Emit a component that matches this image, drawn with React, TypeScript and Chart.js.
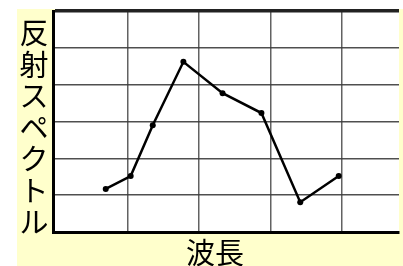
import React, { useEffect, useRef } from "react";
import { Chart, registerables } from "chart.js";

Chart.register(...registerables);

// wavelength positions (arbitrary units) and reflectance values
const wavelengths = [0.69, 1.04, 1.35, 1.78, 2.33, 2.875, 3.42, 3.96];
const reflectance = [1.17, 1.52, 2.9, 4.62, 3.77, 3.23, 0.81, 1.52];
const xGridValues = [1, 2, 3, 4];
const yGridValues = [0, 1, 2, 3, 4, 5, 6];
const yTitle = "反射スペクトル";
const xTitle = "波長";

const FONT = '"Noto Sans CJK JP", "Noto Sans", sans-serif';

const decorPlugin = {
  id: "decor",
  beforeDraw(chart: any) {
    const { ctx, chartArea, width, height } = chart;
    ctx.save();
    ctx.fillStyle = "#ffffff";
    ctx.fillRect(0, 0, width, height);
    ctx.fillStyle = "#ffffcc";
    ctx.fillRect(17, 9, width - 17, height - 9);
    ctx.fillStyle = "#ffffff";
    ctx.fillRect(chartArea.left, chartArea.top, chartArea.right - chartArea.left, chartArea.bottom - chartArea.top);
    ctx.restore();
  },
  afterDraw(chart: any) {
    const { ctx } = chart;
    ctx.save();
    ctx.fillStyle = "#000000";
    ctx.font = `29px ${FONT}`;
    ctx.textAlign = "center";
    ctx.textBaseline = "middle";
    const chars = Array.from(yTitle);
    chars.forEach((c, i) => {
      ctx.fillText(c, 34, 33 + i * 31.5);
    });
    ctx.fillText(xTitle, 215, 253);
    ctx.restore();
  },
};

export default function App() {
  const ref = useRef<HTMLCanvasElement | null>(null);
  useEffect(() => {
    if (!ref.current) return;
    const chart = new Chart(ref.current, {
      type: "line",
      data: {
        datasets: [
          {
            data: wavelengths.map((x, i) => ({ x, y: reflectance[i] })),
            borderColor: "#000000",
            backgroundColor: "#000000",
            borderWidth: 2.5,
            pointRadius: 3,
            pointBackgroundColor: "#000000",
            pointBorderWidth: 0,
            tension: 0,
          },
        ],
      },
      options: {
        animation: false,
        responsive: false,
        devicePixelRatio: 1,
        layout: { padding: { left: 53, top: 11, right: 0, bottom: 34 } },
        plugins: { legend: { display: false }, tooltip: { enabled: false }, title: { display: false } },
        scales: {
          x: {
            type: "linear",
            min: -0.05,
            max: 4.806,
            afterBuildTicks: (scale: any) => {
              scale.ticks = xGridValues.map((v) => ({ value: v }));
            },
            ticks: { display: false },
            grid: { drawTicks: false, color: "rgba(70,70,70,0.85)", lineWidth: 1.5 },
            border: { display: true, color: "#000000", width: 3 },
          },
          y: {
            min: 0,
            max: 6,
            afterBuildTicks: (scale: any) => {
              scale.ticks = yGridValues.map((v) => ({ value: v }));
            },
            ticks: { display: false },
            grid: {
              drawTicks: false,
              color: (c: any) => (c.tick && c.tick.value === 6 ? "#222222" : "rgba(60,60,60,0.9)"),
              lineWidth: (c: any) => (c.tick && c.tick.value === 6 ? 3.5 : 1.5),
            },
            border: { display: true, color: "#000000", width: 3 },
          },
        },
      },
      plugins: [decorPlugin],
    });
    return () => chart.destroy();
  }, []);
  return (
    <div style={{ position: "absolute", left: 0, top: 0, width: 403, height: 266 }}>
      <canvas ref={ref} width={403} height={266} />
    </div>
  );
}
